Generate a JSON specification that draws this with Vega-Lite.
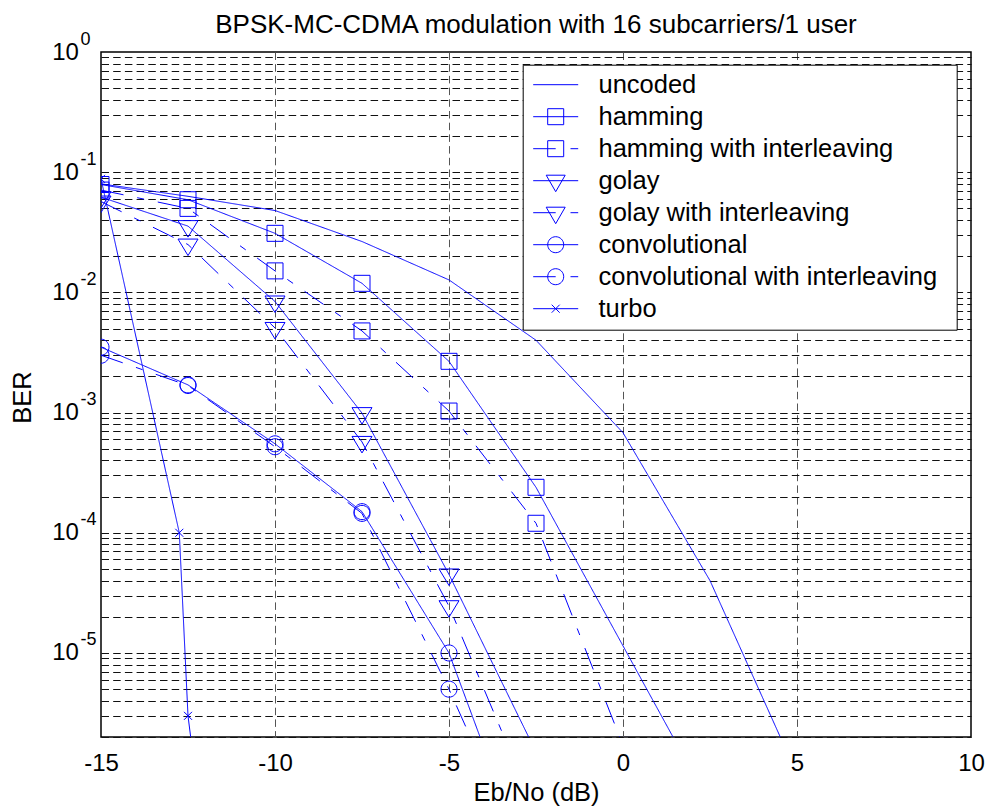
{
  "$schema": "https://vega.github.io/schema/vega-lite/v6.json",
  "width": 870,
  "height": 685,
  "autosize": {"type": "none"},
  "padding": {"left": 101, "top": 52, "right": 19, "bottom": 75},
  "background": "white",
  "config": {
    "font": "Liberation Sans",
    "view": {"stroke": "black", "strokeWidth": 1.5}
  },
  "title": {
    "text": "BPSK-MC-CDMA modulation with 16 subcarriers/1 user",
    "font": "Liberation Sans",
    "fontSize": 26,
    "fontWeight": "normal",
    "color": "black",
    "anchor": "middle",
    "frame": "group",
    "baseline": "alphabetic",
    "offset": -29.4
  },
  "datasets": {
    "ber": [
      {"series": "uncoded", "ebno": -15, "ber": 0.08},
      {"series": "uncoded", "ebno": -12.5, "ber": 0.063},
      {"series": "uncoded", "ebno": -10, "ber": 0.048},
      {"series": "uncoded", "ebno": -7.5, "ber": 0.0265},
      {"series": "uncoded", "ebno": -5, "ber": 0.0127},
      {"series": "uncoded", "ebno": -2.5, "ber": 0.004},
      {"series": "uncoded", "ebno": 0, "ber": 0.00068},
      {"series": "uncoded", "ebno": 2.5, "ber": 0.00004},
      {"series": "uncoded", "ebno": 5, "ber": 0.00000098},
      {"series": "hamming", "ebno": -15, "ber": 0.079},
      {"series": "hamming", "ebno": -12.5, "ber": 0.059},
      {"series": "hamming", "ebno": -10, "ber": 0.031},
      {"series": "hamming", "ebno": -7.5, "ber": 0.0119},
      {"series": "hamming", "ebno": -5, "ber": 0.00267},
      {"series": "hamming", "ebno": -2.5, "ber": 0.000239},
      {"series": "hamming", "ebno": 2.5, "ber": 0.00000055},
      {"series": "hamming with interleaving", "ebno": -15, "ber": 0.071},
      {"series": "hamming with interleaving", "ebno": -12.5, "ber": 0.05},
      {"series": "hamming with interleaving", "ebno": -10, "ber": 0.0151},
      {"series": "hamming with interleaving", "ebno": -7.5, "ber": 0.00478},
      {"series": "hamming with interleaving", "ebno": -5, "ber": 0.00103},
      {"series": "hamming with interleaving", "ebno": -2.5, "ber": 0.00012},
      {"series": "hamming with interleaving", "ebno": 0, "ber": 0.0000017},
      {"series": "golay", "ebno": -15, "ber": 0.062},
      {"series": "golay", "ebno": -12.5, "ber": 0.0356},
      {"series": "golay", "ebno": -10, "ber": 0.0084},
      {"series": "golay", "ebno": -7.5, "ber": 0.00099},
      {"series": "golay", "ebno": -5, "ber": 0.000045},
      {"series": "golay", "ebno": -2.5, "ber": 0.0000015},
      {"series": "golay with interleaving", "ebno": -15, "ber": 0.057},
      {"series": "golay with interleaving", "ebno": -12.5, "ber": 0.025},
      {"series": "golay with interleaving", "ebno": -10, "ber": 0.00506},
      {"series": "golay with interleaving", "ebno": -7.5, "ber": 0.00057},
      {"series": "golay with interleaving", "ebno": -5, "ber": 0.0000245},
      {"series": "golay with interleaving", "ebno": -2.5, "ber": 0.00000047},
      {"series": "convolutional", "ebno": -15, "ber": 0.0035},
      {"series": "convolutional", "ebno": -12.5, "ber": 0.0017},
      {"series": "convolutional", "ebno": -10, "ber": 0.00055},
      {"series": "convolutional", "ebno": -7.5, "ber": 0.00015},
      {"series": "convolutional", "ebno": -5, "ber": 0.00001},
      {"series": "convolutional", "ebno": -2.5, "ber": 0.00000011},
      {"series": "convolutional with interleaving", "ebno": -15, "ber": 0.003},
      {"series": "convolutional with interleaving", "ebno": -12.5, "ber": 0.00168},
      {"series": "convolutional with interleaving", "ebno": -10, "ber": 0.00052},
      {"series": "convolutional with interleaving", "ebno": -7.5, "ber": 0.000145},
      {"series": "convolutional with interleaving", "ebno": -5, "ber": 0.000005},
      {"series": "convolutional with interleaving", "ebno": -2.5, "ber": 0.00000012},
      {"series": "turbo", "ebno": -15, "ber": 0.088},
      {"series": "turbo", "ebno": -12.75, "ber": 0.0001},
      {"series": "turbo", "ebno": -12.5, "ber": 0.000003},
      {"series": "turbo", "ebno": -12.25, "ber": 0.0000008}
    ]
  },
  "encoding": {
    "x": {
      "field": "ebno",
      "type": "quantitative",
      "scale": {"domain": [-15, 10], "nice": false, "zero": false},
      "axis": {
        "title": "Eb/No (dB)",
        "values": [-15, -10, -5, 0, 5, 10],
        "labelExpr": "'' + datum.value",
        "labelFont": "Liberation Sans",
        "labelFontSize": 24,
        "labelColor": "black",
        "labelPadding": 14,
        "labelFlush": false,
        "labelOverlap": false,
        "ticks": false,
        "tickSize": 0,
        "domain": false,
        "grid": true,
        "gridDash": [7.5, 4.2],
        "gridWidth": 1,
        "gridOpacity": 1,
        "gridColor": {"condition": {"test": "datum.value <= -15 || datum.value >= 10", "value": "transparent"}, "value": "#555555"},
        "titleFont": "Liberation Sans",
        "titleFontSize": 25.5,
        "titleFontWeight": "normal",
        "titleColor": "black",
        "titleY": 63,
        "titleBaseline": "alphabetic"
      }
    }
  },
  "layer": [
    {
      "data": {"name": "ber"},
      "mark": {"type": "line", "color": "#0000ff", "strokeWidth": 1, "clip": true},
      "encoding": {
        "y": {
          "field": "ber",
          "type": "quantitative",
          "scale": {"type": "log", "domain": [0.000002, 1], "nice": false},
          "axis": {
            "title": "BER",
            "values": [0.000002, 0.000003, 0.000004, 0.000005, 0.000006, 0.000007, 0.000008, 0.000009,
                       0.00001, 0.00002, 0.00003, 0.00004, 0.00005, 0.00006, 0.00007, 0.00008, 0.00009,
                       0.0001, 0.0002, 0.0003, 0.0004, 0.0005, 0.0006, 0.0007, 0.0008, 0.0009,
                       0.001, 0.002, 0.003, 0.004, 0.005, 0.006, 0.007, 0.008, 0.009,
                       0.01, 0.02, 0.03, 0.04, 0.05, 0.06, 0.07, 0.08, 0.09,
                       0.1, 0.2, 0.3, 0.4, 0.5, 0.6, 0.7, 0.8, 0.9, 1],
            "labelExpr": "abs(log(datum.value)/LN10 - round(log(datum.value)/LN10)) < 0.001 ? '10' : ''",
            "labelFont": "Liberation Sans",
            "labelFontSize": 24,
            "labelColor": "black",
            "labelPadding": 49.3,
            "labelAlign": "left",
            "labelBaseline": "middle",
            "labelFlush": false,
            "labelOverlap": false,
            "labelBound": false,
            "ticks": false,
            "tickSize": 0,
            "domain": false,
            "grid": true,
            "gridDash": [7.5, 4.2],
            "gridWidth": 1,
            "gridOpacity": 1,
            "gridColor": {"condition": {"test": "datum.value > 0.99", "value": "transparent"}, "value": "#111111"},
            "titleFont": "Liberation Sans",
            "titleFontSize": 25.5,
            "titleFontWeight": "normal",
            "titleColor": "black",
            "titleAngle": -90,
            "titleX": -71,
            "titleY": 345,
            "titleBaseline": "alphabetic"
          }
        },
        "strokeDash": {
          "field": "series",
          "type": "nominal",
          "scale": {
            "domain": ["uncoded", "hamming", "hamming with interleaving", "golay", "golay with interleaving", "convolutional", "convolutional with interleaving", "turbo"],
            "range": [[1, 0], [1, 0], [23, 14, 7, 14], [1, 0], [23, 14, 7, 14], [1, 0], [23, 14, 7, 14], [1, 0]]
          },
          "legend": null
        },
        "detail": {"field": "series", "type": "nominal"}
      }
    },
    {
      "data": {"name": "ber"},
      "transform": [{"filter": "datum.series != 'uncoded'"}],
      "mark": {"type": "point", "filled": false, "color": "#0000ff", "strokeWidth": 1, "size": 100, "opacity": 1, "clip": true},
      "encoding": {
        "y": {"field": "ber", "type": "quantitative", "axis": null},
        "shape": {
          "field": "series",
          "type": "nominal",
          "scale": {
            "domain": ["hamming", "hamming with interleaving", "golay", "golay with interleaving", "convolutional", "convolutional with interleaving", "turbo"],
            "range": [
              "M-1.6,-1.6H1.6V1.6H-1.6Z",
              "M-1.6,-1.6H1.6V1.6H-1.6Z",
              "M-2,-1.1H2L0,2.2Z",
              "M-2,-1.1H2L0,2.2Z",
              "M1.6,0A1.6,1.6,0,1,1,-1.6,0A1.6,1.6,0,1,1,1.6,0Z",
              "M1.6,0A1.6,1.6,0,1,1,-1.6,0A1.6,1.6,0,1,1,1.6,0Z",
              "M-0.8,-0.8L0.8,0.8M-0.8,0.8L0.8,-0.8"
            ]
          },
          "legend": null
        }
      }
    },
    {
      "data": {"name": "ber"},
      "mark": {"type": "point", "filled": false, "color": "#0000ff", "strokeWidth": 1, "size": 400, "opacity": 0, "clip": true},
      "encoding": {
        "y": {
          "field": "ber",
          "type": "quantitative",
          "axis": {
            "orient": "right",
            "offset": -891,
            "title": null,
            "values": [1, 0.1, 0.01, 0.001, 0.0001, 0.00001],
            "labelExpr": "['0','-1','-2','-3','-4','-5','-6'][abs(round(log(datum.value)/LN10))]",
            "labelFont": "Liberation Sans",
            "labelFontSize": 18,
            "labelColor": "black",
            "labelPadding": 0,
            "labelAlign": "left",
            "labelBaseline": "middle",
            "labelOffset": -13,
            "labelFlush": false,
            "labelOverlap": false,
            "labelBound": false,
            "ticks": false,
            "tickSize": 0,
            "domain": false,
            "grid": false
          }
        },
        "shape": {
          "field": "series",
          "type": "nominal",
          "scale": {
            "domain": ["uncoded", "hamming", "hamming with interleaving", "golay", "golay with interleaving", "convolutional", "convolutional with interleaving", "turbo"],
            "range": [
              "M-2.25,0H2.25",
              "M-2.25,0H2.25M-0.8,-0.8H0.8V0.8H-0.8Z",
              "M-2.25,0H0M1.48,0H2.25M-0.8,-0.8H0.8V0.8H-0.8Z",
              "M-2.25,0H2.25M-0.95,-0.55H0.95L0,1.1Z",
              "M-2.25,0H0M1.48,0H2.25M-0.95,-0.55H0.95L0,1.1Z",
              "M-2.25,0H2.25M0.8,0A0.8,0.8,0,1,1,-0.8,0A0.8,0.8,0,1,1,0.8,0Z",
              "M-2.25,0H0M1.48,0H2.25M0.8,0A0.8,0.8,0,1,1,-0.8,0A0.8,0.8,0,1,1,0.8,0Z",
              "M-2.25,0H2.25M-0.4,-0.4L0.4,0.4M-0.4,0.4L0.4,-0.4"
            ]
          },
          "legend": {
            "title": ".",
            "titleOrient": "right",
            "titleFontSize": 1,
            "titleColor": "transparent",
            "titlePadding": 12,
            "orient": "none",
            "legendX": 421.7,
            "legendY": 12.7,
            "direction": "vertical",
            "padding": 7.25,
            "fillColor": "white",
            "strokeColor": "black",
            "symbolSize": 400,
            "symbolStrokeColor": "#0000ff",
            "symbolFillColor": "transparent",
            "symbolStrokeWidth": 1,
            "symbolOpacity": 1,
            "symbolOffset": 13,
            "labelOffset": 30,
            "labelFont": "Liberation Sans",
            "labelFontSize": 25.5,
            "labelColor": "black",
            "labelLimit": 1000,
            "labelBaseline": "middle",
            "rowPadding": 5
          }
        }
      }
    }
  ],
  "resolve": {
    "scale": {"shape": "independent", "y": "shared"},
    "axis": {"y": "independent"},
    "legend": {"shape": "independent"}
  }
}
